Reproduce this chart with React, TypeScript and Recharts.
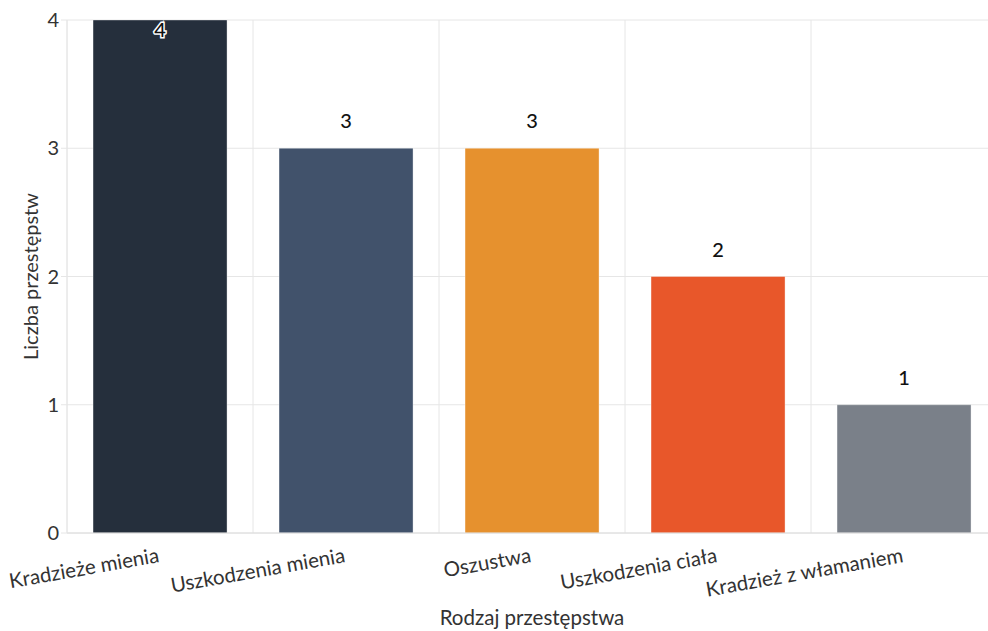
import { BarChart, Bar, XAxis, YAxis, CartesianGrid, Cell, LabelList } from 'recharts';

const categories = ['Kradzieże mienia', 'Uszkodzenia mienia', 'Oszustwa', 'Uszkodzenia ciała', 'Kradzież z włamaniem'];
const counts = [4, 3, 3, 2, 1];
const barColors = ['#252f3c', '#41526b', '#e6912e', '#e8572a', '#7a8089'];
const yTicks = [0, 1, 2, 3, 4];
// category boundaries, used for the vertical grid lines
const boundaryTicks = [0, 1, 2, 3, 4, 5];

const data = categories.map((name, i) => ({ name, value: counts[i] }));

const FONT = 'Lato, "Noto Sans", sans-serif';

// rotated category labels, anchored at their end under the bar centre
const XTick = ({ x, y, payload }: any) => (
    <g transform={`translate(${x},${y + 20}) rotate(-10)`}>
        <text x={0} y={0} textAnchor="end" fill="#333" fontSize={20.5} fontFamily={FONT}>
            {payload.value}
        </text>
    </g>
);

const NoTick = () => <g />;

// value above the bar; kept inside the plot when the bar reaches the top
const ValueLabel = ({ x, y, width, value }: any) => {
    const ty = Math.max(y - 20, 37);
    return (
        <text
            x={x + width / 2}
            y={ty}
            textAnchor="middle"
            fontSize={20}
            fontWeight={500}
            fontFamily={FONT}
            fill="#111"
            stroke="#fff"
            strokeWidth={3}
            paintOrder="stroke"
        >
            {value}
        </text>
    );
};

const boundaryLines = ({ offset }: any) =>
    boundaryTicks.map((b) => offset.left + (b * offset.width) / categories.length);

export default function App() {
    return (
        <div style={{ position: 'absolute', left: 0, top: 0, width: 988, height: 631, overflow: 'hidden', background: '#fff' }}>
            <BarChart
                width={1000}
                height={631}
                data={data}
                margin={{ top: 20, right: 3, bottom: 0, left: 0 }}
                barCategoryGap="14%"
                style={{ fontFamily: FONT }}
            >
                <CartesianGrid stroke="#e6e6e6" verticalCoordinatesGenerator={boundaryLines} />
                <XAxis
                    xAxisId="grid"
                    type="number"
                    domain={[0, 5]}
                    ticks={boundaryTicks}
                    interval={0}
                    height={0}
                    tickSize={7}
                    tick={<NoTick />}
                    axisLine={false}
                    tickLine={{ stroke: '#e6e6e6' }}
                />
                <XAxis
                    dataKey="name"
                    height={98}
                    interval={0}
                    tick={<XTick />}
                    tickSize={7}
                    axisLine={{ stroke: '#dcdcdc' }}
                    tickLine={false}
                    label={{ value: 'Rodzaj przestępstwa', position: 'insideBottom', offset: 6, fill: '#333', fontSize: 20.5 }}
                />
                <YAxis
                    width={67}
                    domain={[0, 4]}
                    ticks={yTicks}
                    tickSize={6}
                    tick={{ fill: '#333', fontSize: 20, fontFamily: FONT }}
                    axisLine={{ stroke: '#e6e6e6' }}
                    tickLine={{ stroke: '#e6e6e6' }}
                    label={{ value: 'Liczba przestępstw', angle: -90, position: 'insideLeft', offset: 31, fill: '#333', fontSize: 20, style: { textAnchor: 'middle' } }}
                />
                <Bar dataKey="value" isAnimationActive={false} stroke="rgba(255,255,255,0.35)" strokeWidth={1}>
                    {data.map((_d, i) => (
                        <Cell key={`c-${i}`} fill={barColors[i]} />
                    ))}
                    <LabelList dataKey="value" content={<ValueLabel />} />
                </Bar>
            </BarChart>
        </div>
    );
}
